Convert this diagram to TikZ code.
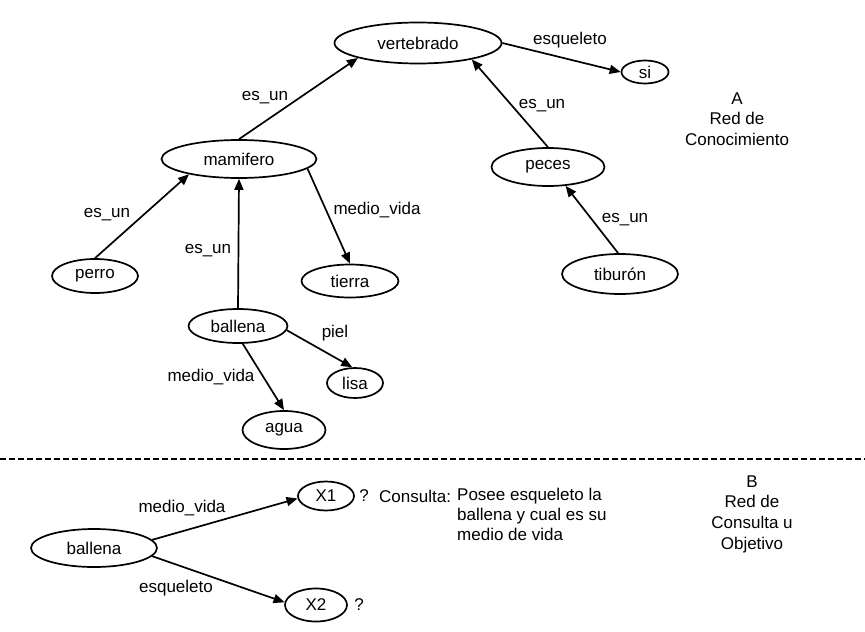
\documentclass[tikz,border=0pt]{standalone}
\usepackage{fontspec}
\setmainfont{Liberation Sans}
\usetikzlibrary{shapes.geometric,arrows.meta}
\tikzset{
  ell/.style={ellipse, draw, line width=1.7pt, inner sep=0pt, font=\fontsize{17}{20}\selectfont},
  lbl/.style={inner sep=0pt, font=\fontsize{17}{20}\selectfont},
  edge/.style={line width=1.7pt, -{Triangle[length=11pt,width=9pt]}},
}
\begin{document}
\begin{tikzpicture}[x=1pt,y=-1pt]
\useasboundingbox (0,0) rectangle (865,632);
% knowledge network
\node[ell, minimum width=167pt, minimum height=41pt] (vert) at (418,43) {vertebrado};
\node[ell, minimum width=47pt, minimum height=23pt] (si) at (645,72) {si};
\node[ell, minimum width=155pt, minimum height=38pt] (mam) at (239,159) {mamifero};
\node[ell, minimum width=86pt, minimum height=34pt] (perro) at (95,276) {perro};
\node[ell, minimum width=97pt, minimum height=33pt] (tierra) at (350,281) {tierra};
\node[ell, minimum width=99pt, minimum height=34pt] (bal) at (238,326) {ballena};
\node[ell, minimum width=56pt, minimum height=30pt] (lisa) at (355,383) {lisa};
\node[ell, minimum width=83pt, minimum height=38pt] (agua) at (284,430) {agua};
\node[ell, minimum width=113pt, minimum height=38pt] (peces) at (548,167) {peces};
\node[ell, minimum width=116pt, minimum height=40pt] (tib) at (620,274) {tiburón};

\draw[edge] (mam.north) -- (vert.194);
\draw[edge] (vert.east) -- (si.west);
\draw[edge] (peces.north) -- (vert.343);
\draw[edge] (perro.north) -- (mam.197);
\draw[edge] (bal.north) -- (mam.south);
\draw[edge] (mam.352) -- (tierra.north);
\draw[edge] (bal.355) -- (lisa.100);
\draw[edge] (bal.285) -- (agua.north);
\draw[edge] (tib.95) -- (peces.313);

\node[lbl] (l1) at (265,98) {es\_un};
\node[lbl] (l2) at (570,40) {esqueleto};
\node[lbl] (l3) at (542,106) {es\_un};
\node[lbl] (l4) at (107,215) {es\_un};
\node[lbl] (l5) at (208,251) {es\_un};
\node[lbl] (l6) at (377,210) {medio\_vida};
\node[lbl] (l7) at (335,333) {piel};
\node[lbl] (l8) at (211,377) {medio\_vida};
\node[lbl] (l9) at (625,220) {es\_un};

\node[lbl, align=center, font=\fontsize{17}{20.5}\selectfont] (A) at (737,119) {A\\Red de\\Conocimiento};

% separator
\coordinate (sl) at (0,459);
\coordinate (sr) at (865,459);
\draw[line width=1.5pt, dash pattern=on 6pt off 3pt] (sl) -- (sr);

% query network
\node[ell, minimum width=126pt, minimum height=38pt] (bal2) at (94,548) {ballena};
\node[ell, minimum width=56pt, minimum height=29pt] (x1) at (326,496) {X1};
\node[ell, minimum width=62pt, minimum height=33pt] (x2) at (316,605) {X2};
\draw[edge] (bal2.8) -- (x1.185);
\draw[edge] (bal2.352) -- (x2.175);
\node[lbl] (m1) at (182,508) {medio\_vida};
\node[lbl] (m2) at (176,588) {esqueleto};
\node[lbl] (q1) at (364,496) {?};
\node[lbl] (q2) at (359,605) {?};
\node[lbl, anchor=west] (cons) at (379,496) {Consulta:};
\node[lbl, anchor=north west, align=left] (ctext) at (457,488) {Posee esqueleto la\\ballena y cual es su\\medio de vida};
\node[lbl, align=center, font=\fontsize{17}{20.7}\selectfont] (B) at (752,514) {B\\Red de\\Consulta u\\Objetivo};
\end{tikzpicture}
\end{document}
